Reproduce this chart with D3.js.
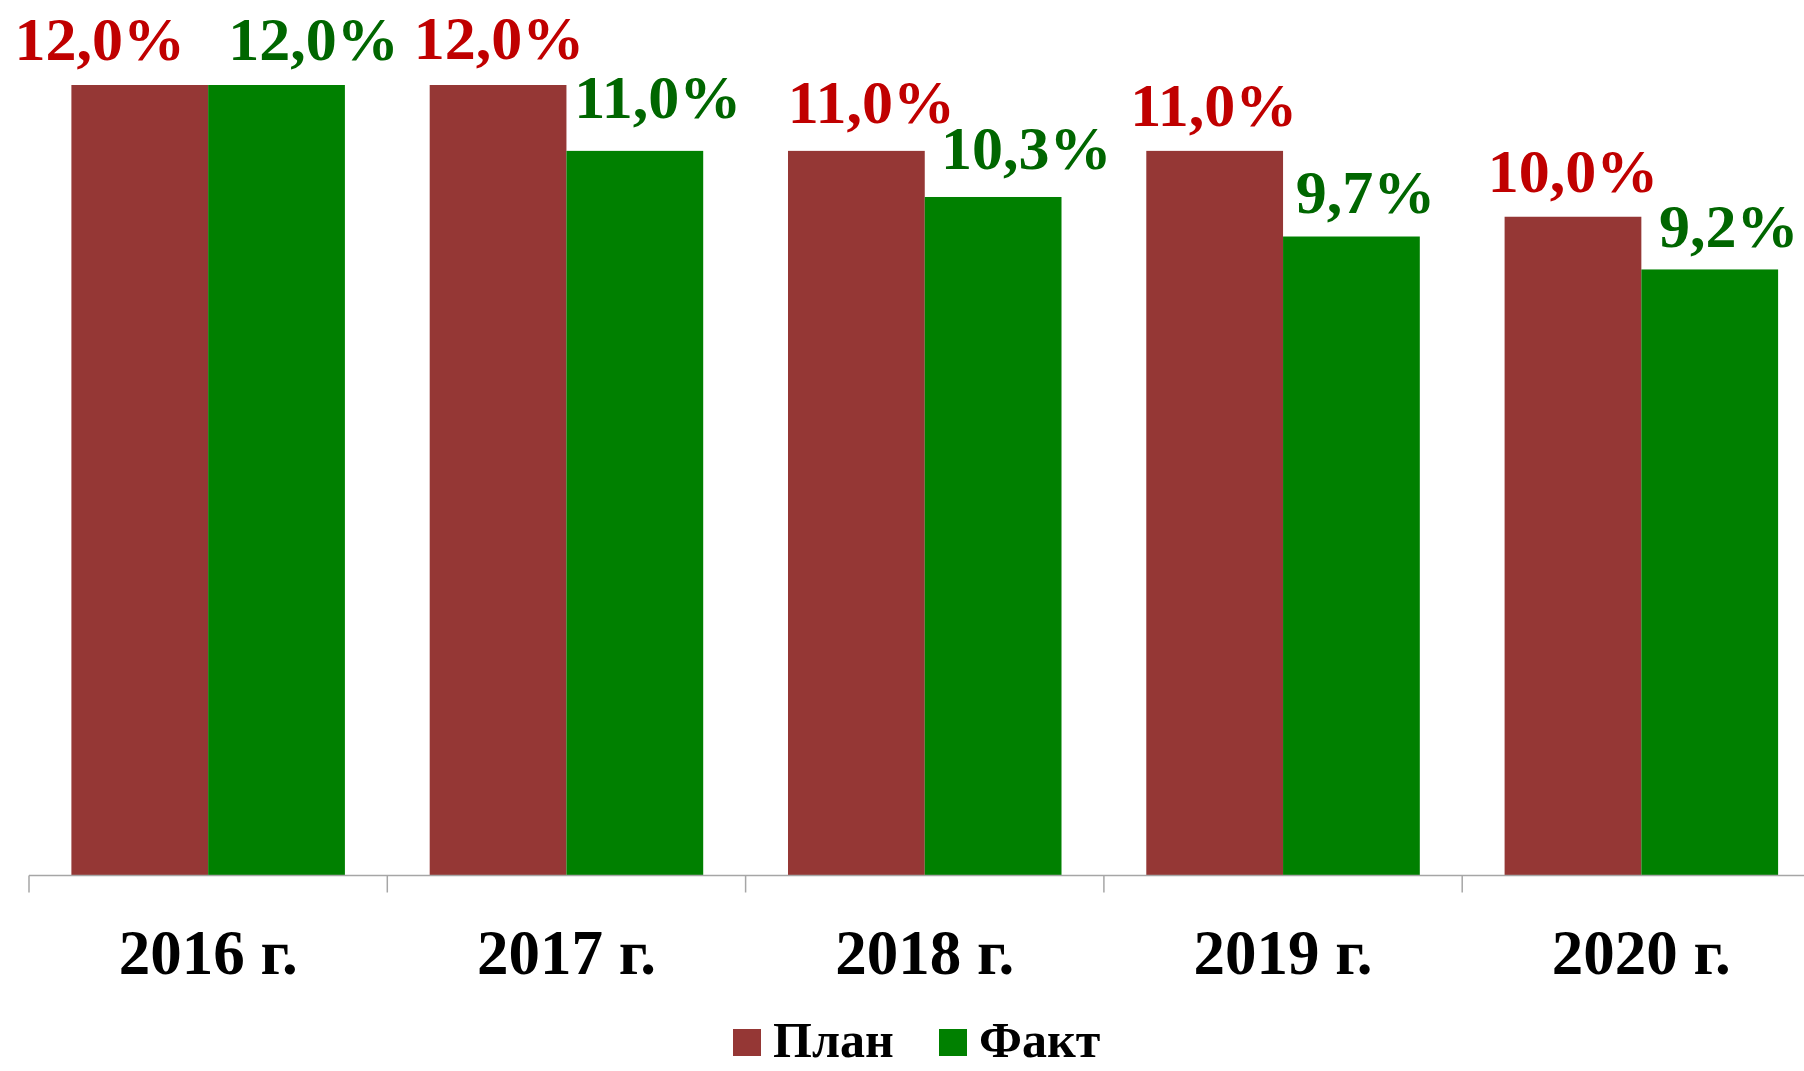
<!DOCTYPE html>
<html>
<head>
<meta charset="utf-8">
<script src="https://cdn.jsdelivr.net/npm/d3@7"></script>
<style>
  body { margin: 0; background: #fff; }
  text { font-family: "Liberation Serif", "Times New Roman", serif; font-weight: bold; }
</style>
</head>
<body>
<div id="chart-area"></div>
<script>
var width = 1804;
var height = 1071;

// data
var years = ["2016 г.", "2017 г.", "2018 г.", "2019 г.", "2020 г."];
var series = ["План", "Факт"];
var plan = [12.0, 12.0, 11.0, 11.0, 10.0];
var fact = [12.0, 11.0, 10.3, 9.7, 9.2];

// label nudges (the original labels were dragged by hand)
var planDx = [-40, 1, 15, -1, 0];
var planDy = [25, 26, 28, 25, 25];
var factDx = [37, 23, 33, 14, 19];
var factDy = [25, 33, 28, 24, 22];

var colors = { "План": "#953735", "Факт": "#008000" };
var labelColors = { "План": "#C00000", "Факт": "#006600" };

var svg = d3.select("#chart-area").append("svg")
    .attr("width", width)
    .attr("height", height);

var axisY = 875.5;
var step = 358.3;

var x = d3.scaleBand()
    .domain(years)
    .range([29, 29 + step * years.length])
    .paddingInner(0)
    .paddingOuter(0);

var xs = d3.scaleBand()
    .domain(series)
    .range([0, x.bandwidth()])
    .paddingInner(0)
    .paddingOuter(0.31);

var y = d3.scaleLinear()
    .domain([0, 12])
    .range([axisY, 85]);

var rows = years.map(function(yr, i) {
    return [
        { year: yr, s: "План", v: plan[i], dx: planDx[i], dy: planDy[i] },
        { year: yr, s: "Факт", v: fact[i], dx: factDx[i], dy: factDy[i] }
    ];
});
var flat = d3.merge(rows);

// bars
svg.append("g").selectAll("rect")
    .data(flat)
    .enter()
    .append("rect")
    .attr("x", function(d) { return x(d.year) + xs(d.s); })
    .attr("y", function(d) { return y(d.v); })
    .attr("width", xs.bandwidth())
    .attr("height", function(d) { return axisY - y(d.v); })
    .attr("fill", function(d) { return colors[d.s]; });

// axis line + ticks at band edges
svg.append("line")
    .attr("x1", x.range()[0])
    .attr("x2", width)
    .attr("y1", axisY)
    .attr("y2", axisY)
    .attr("stroke", "#a6a6a6")
    .attr("stroke-width", 1.5);

var edges = years.map(function(d) { return x(d); }).concat([x.range()[1]]);
svg.append("g").selectAll("line")
    .data(edges)
    .enter()
    .append("line")
    .attr("x1", function(d) { return d; })
    .attr("x2", function(d) { return d; })
    .attr("y1", axisY)
    .attr("y2", axisY + 17)
    .attr("stroke", "#a6a6a6")
    .attr("stroke-width", 1.5);

// category labels
svg.append("g").selectAll("text")
    .data(years)
    .enter()
    .append("text")
    .text(function(d) { return d; })
    .attr("x", function(d) { return x(d) + x.bandwidth() / 2; })
    .attr("y", 974)
    .attr("text-anchor", "middle")
    .attr("font-size", 63)
    .attr("fill", "#000");

// value labels
svg.append("g").selectAll("text")
    .data(flat)
    .enter()
    .append("text")
    .text(function(d) { return d3.format(".1f")(d.v).replace(".", ",") + "%"; })
    .attr("x", function(d) { return x(d.year) + xs(d.s) + xs.bandwidth() / 2 + d.dx; })
    .attr("y", function(d) { return y(d.v) - d.dy; })
    .attr("text-anchor", "middle")
    .attr("font-size", 62)
    .attr("fill", function(d) { return labelColors[d.s]; });

// legend
var legendX = [733, 939];
var legend = svg.append("g").selectAll("g")
    .data(series)
    .enter()
    .append("g")
    .attr("transform", function(d, i) { return "translate(" + legendX[i] + ",1029)"; });

legend.append("rect")
    .attr("width", 28)
    .attr("height", 27)
    .attr("fill", function(d) { return colors[d]; });

legend.append("text")
    .text(function(d) { return d; })
    .attr("x", 40)
    .attr("y", 28)
    .attr("font-size", 50)
    .attr("fill", "#000");
</script>
</body>
</html>
